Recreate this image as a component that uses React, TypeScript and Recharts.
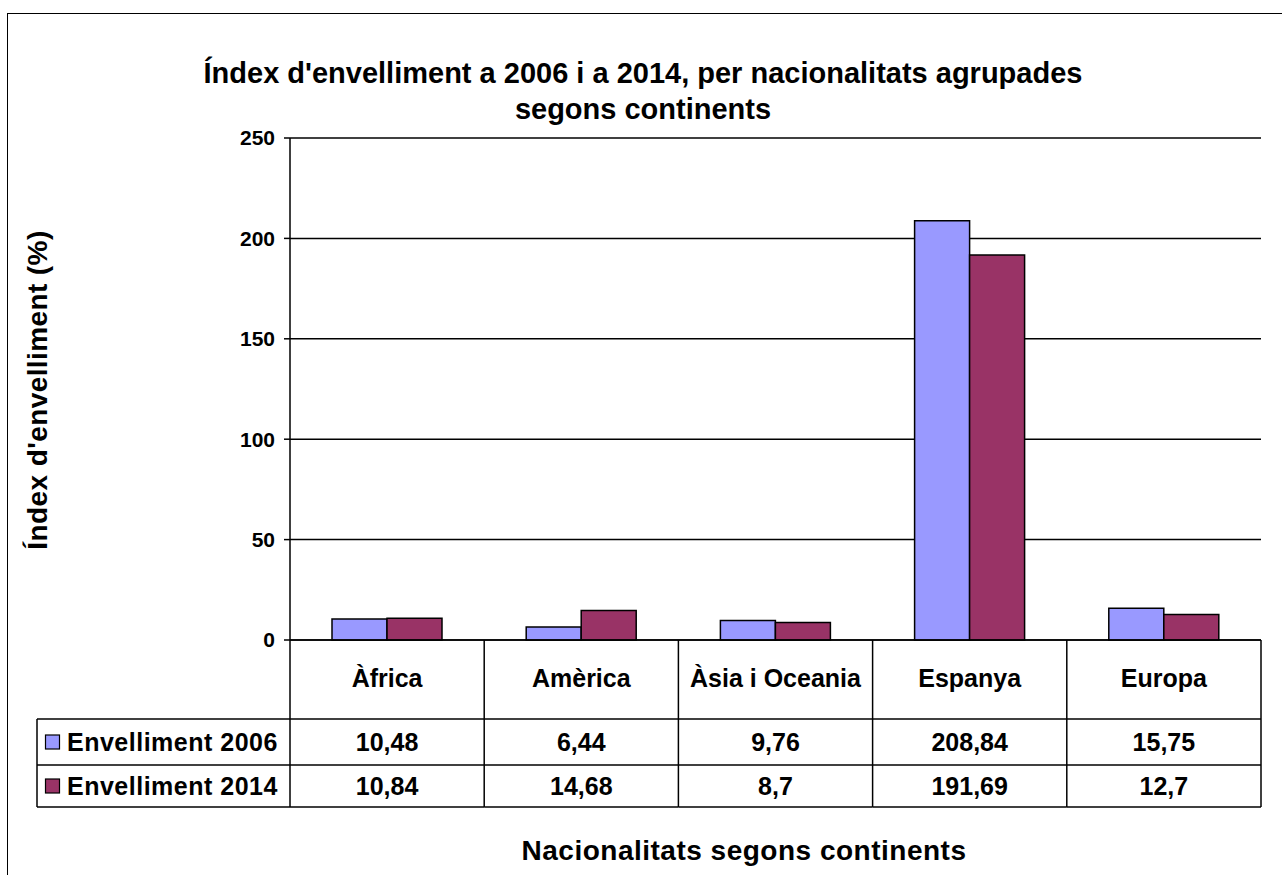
import { BarChart, Bar, XAxis, YAxis, CartesianGrid } from 'recharts'

const continents = ['Àfrica', 'Amèrica', 'Àsia i Oceania', 'Espanya', 'Europa']
const envelliment2006 = [10.48, 6.44, 9.76, 208.84, 15.75]
const envelliment2014 = [10.84, 14.68, 8.7, 191.69, 12.7]
const yTicks = [0, 50, 100, 150, 200, 250]
const seriesNames = ['Envelliment 2006', 'Envelliment 2014']
const seriesColors = ['#9999FF', '#993366']

const data = continents.map((name, i) => ({
  name,
  e2006: envelliment2006[i],
  e2014: envelliment2014[i],
}))

const FONT = '"Liberation Sans", Arial, sans-serif'

const fmt = (v: number) => String(v).replace('.', ',')

// plot geometry (Excel-like layout)
const PLOT_LEFT = 290
const PLOT_RIGHT = 1261
const CELL_W = (PLOT_RIGHT - PLOT_LEFT) / continents.length
const HEADER_H = 79
const ROW_H = [46, 42]
const TABLE_LEFT = 37

// draws the data table column for one category (header + values)
function TableTick(props: any) {
  const { x, y, payload } = props
  const i = payload.index
  const left = x - CELL_W / 2
  const right = x + CELL_W / 2
  const r1 = y + HEADER_H
  const r2 = r1 + ROW_H[0]
  const r3 = r2 + ROW_H[1]
  const vals = [envelliment2006[i], envelliment2014[i]]
  return (
    <g>
      <line x1={right} y1={y} x2={right} y2={r3} stroke="#000" strokeWidth={1.5} />
      {i === 0 && (
        <g>
          <line x1={left} y1={y} x2={left} y2={r3} stroke="#000" strokeWidth={1.5} />
          <line x1={TABLE_LEFT} y1={r1} x2={left} y2={r1} stroke="#000" strokeWidth={1.5} />
          <line x1={TABLE_LEFT} y1={r2} x2={left} y2={r2} stroke="#000" strokeWidth={1.5} />
          <line x1={TABLE_LEFT} y1={r3} x2={left} y2={r3} stroke="#000" strokeWidth={1.5} />
          <line x1={TABLE_LEFT} y1={r1} x2={TABLE_LEFT} y2={r3} stroke="#000" strokeWidth={1.5} />
          {seriesNames.map((s, k) => {
            const cy = k === 0 ? (r1 + r2) / 2 : (r2 + r3) / 2
            return (
              <g key={s}>
                <rect x={45.5} y={cy - 7} width={14} height={14} fill={seriesColors[k]} stroke="#000" strokeWidth={1.2} />
                <text x={67} y={cy + 9} fontSize={25} fontWeight="bold" fontFamily={FONT} letterSpacing={0.5} fill="#000">
                  {s}
                </text>
              </g>
            )
          })}
        </g>
      )}
      <line x1={left} y1={r1} x2={right} y2={r1} stroke="#000" strokeWidth={1.5} />
      <line x1={left} y1={r2} x2={right} y2={r2} stroke="#000" strokeWidth={1.5} />
      <line x1={left} y1={r3} x2={right} y2={r3} stroke="#000" strokeWidth={1.5} />
      <text x={x} y={y + 47} textAnchor="middle" fontSize={25} fontWeight="bold" fontFamily={FONT} fill="#000">
        {payload.value}
      </text>
      {vals.map((v, k) => (
        <text
          key={k}
          x={x}
          y={(k === 0 ? (r1 + r2) / 2 : (r2 + r3) / 2) + 9}
          textAnchor="middle"
          fontSize={25}
          fontWeight="bold"
          fontFamily={FONT}
          fill="#000"
        >
          {fmt(v)}
        </text>
      ))}
    </g>
  )
}

export default function App() {
  return (
    <div style={{ position: 'fixed', left: 0, top: 0, width: 1282, height: 875, overflow: 'hidden', background: '#fff' }}>
      <div
        style={{
          position: 'absolute',
          left: 7,
          top: 13,
          width: 1300,
          height: 900,
          border: '1.5px solid #000',
          boxSizing: 'border-box',
        }}
      />
      <div
        style={{
          position: 'absolute',
          left: 0,
          top: 55,
          width: 1286,
          textAlign: 'center',
          fontFamily: FONT,
          fontWeight: 'bold',
          fontSize: 29,
          lineHeight: '36px',
        }}
      >
        Índex d'envelliment a 2006 i a 2014, per nacionalitats agrupades
        <br />
        segons continents
      </div>
      <div
        style={{
          position: 'absolute',
          left: 38,
          top: 390,
          transform: 'translate(-50%, -50%) rotate(-90deg)',
          whiteSpace: 'nowrap',
          fontFamily: FONT,
          fontWeight: 'bold',
          fontSize: 28,
          letterSpacing: 0.4,
          lineHeight: '28px',
        }}
      >
        Índex d'envelliment (%)
      </div>
      <div
        style={{
          position: 'absolute',
          left: 244,
          width: 1000,
          top: 837,
          textAlign: 'center',
          fontFamily: FONT,
          fontWeight: 'bold',
          fontSize: 28,
          letterSpacing: 0.5,
          lineHeight: '28px',
        }}
      >
        Nacionalitats segons continents
      </div>
      <div style={{ position: 'absolute', left: 0, top: 0 }}>
        <BarChart
          width={1282}
          height={875}
          data={data}
          margin={{ top: 138, right: 1282 - PLOT_RIGHT, left: 200, bottom: 65 }}
          barCategoryGap={42}
          barGap={0}
        >
          <CartesianGrid vertical={false} stroke="#000" strokeWidth={1.5} />
          <YAxis
            width={90}
            domain={[0, 250]}
            ticks={yTicks}
            interval={0}
            axisLine={{ stroke: '#000', strokeWidth: 1.5 }}
            tickLine={{ stroke: '#000', strokeWidth: 1.5 }}
            tickSize={6}
            tickMargin={9}
            tick={{ fill: '#000', fontSize: 21, fontWeight: 'bold', fontFamily: FONT }}
          />
          <XAxis
            dataKey="name"
            height={170}
            interval={0}
            axisLine={{ stroke: '#000', strokeWidth: 1.5 }}
            tickLine={false}
            tickSize={0}
            tickMargin={0}
            tick={<TableTick />}
          />
          <Bar dataKey="e2006" name={seriesNames[0]} fill={seriesColors[0]} stroke="#000" strokeWidth={1.5} isAnimationActive={false} />
          <Bar dataKey="e2014" name={seriesNames[1]} fill={seriesColors[1]} stroke="#000" strokeWidth={1.5} isAnimationActive={false} />
        </BarChart>
      </div>
    </div>
  )
}
